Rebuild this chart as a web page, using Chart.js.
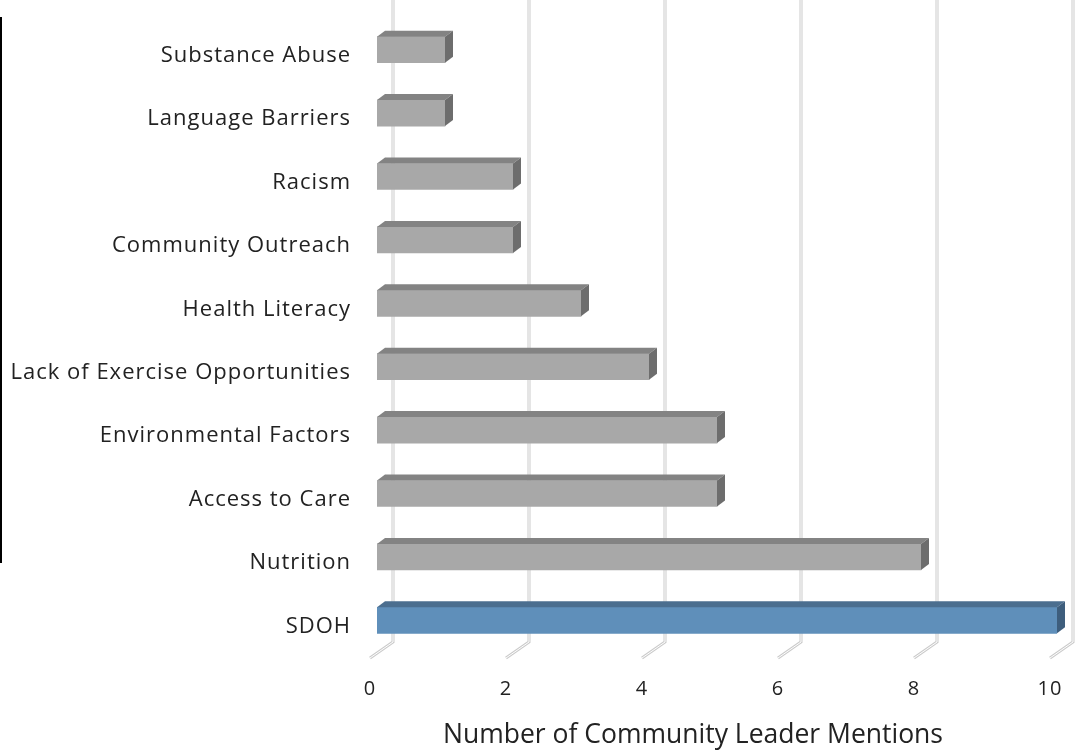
<!DOCTYPE html>
<html>
<head>
<meta charset="utf-8">
<script src="https://cdn.jsdelivr.net/npm/chart.js@4"></script>
<style>
  html, body { margin: 0; padding: 0; background: #ffffff; }
  #wrap { width: 1078px; height: 751px; position: relative; }
</style>
</head>
<body>
<div id="wrap"><canvas id="chart" width="1078" height="751"></canvas></div>
<script>
// Issues raised by community leaders, top to bottom
const categories = [
  'Substance Abuse',
  'Language Barriers',
  'Racism',
  'Community Outreach',
  'Health Literacy',
  'Lack of Exercise Opportunities',
  'Environmental Factors',
  'Access to Care',
  'Nutrition',
  'SDOH'
];
const mentions = [1, 1, 2, 2, 3, 4, 5, 5, 8, 10];
const xTicks = [0, 2, 4, 6, 8, 10];
const highlighted = 'SDOH';
const axisTitle = 'Number of Community Leader Mentions';

const FONT = '"Open Sans", Lato, sans-serif';
const TEXT = '#222222';

// face colours for the extruded bars: [front, top, side]
const greyFaces = ['#a8a8a8', '#838383', '#6d6d6d'];
const blueFaces = ['#5f8fba', '#4b6e8f', '#3e5e7d'];
const facesFor = (cat) => (cat === highlighted ? blueFaces : greyFaces);

const DEPTH_X = 8, DEPTH_Y = 6;     // bar extrusion
const WALL_X = 16;                  // back wall offset of the grid lines
const FLOOR_DX = 7, FLOOR_DY = 16;  // slanted floor segment of each grid line

// Slightly open tracking for the axis text
const trackingPlugin = {
  id: 'tracking',
  beforeDraw(chart) { chart.ctx.letterSpacing = '1px'; },
  beforeDatasetsDraw(chart) { chart.ctx.letterSpacing = '0px'; }
};

// Grid lines drawn as thin 3D rails: back wall + floor diagonal
const gridPlugin = {
  id: 'grid3d',
  beforeDatasetsDraw(chart) {
    const { ctx, chartArea, scales: { x } } = chart;
    const wallBottom = chartArea.bottom - 10;
    ctx.save();
    ctx.lineJoin = 'miter';
    xTicks.forEach(v => {
      const px = x.getPixelForValue(v);
      const path = () => {
        ctx.beginPath();
        ctx.moveTo(px + WALL_X, 0);
        ctx.lineTo(px + WALL_X, wallBottom);
        ctx.lineTo(px - FLOOR_DX, wallBottom + FLOOR_DY);
      };
      path(); ctx.strokeStyle = '#cbcbcb'; ctx.lineWidth = 3; ctx.stroke();
      path(); ctx.strokeStyle = '#ffffff'; ctx.lineWidth = 1; ctx.stroke();
    });
    ctx.restore();
  }
};

// Top and side faces on every bar
const extrudePlugin = {
  id: 'extrude',
  afterDatasetsDraw(chart) {
    const { ctx } = chart;
    const meta = chart.getDatasetMeta(0);
    ctx.save();
    meta.data.forEach((bar, i) => {
      const faces = facesFor(categories[i]);
      const left = Math.min(bar.base, bar.x), right = Math.max(bar.base, bar.x);
      const top = bar.y - bar.height / 2, bottom = bar.y + bar.height / 2;
      ctx.beginPath();
      ctx.moveTo(left, top);
      ctx.lineTo(left + DEPTH_X, top - DEPTH_Y);
      ctx.lineTo(right + DEPTH_X, top - DEPTH_Y);
      ctx.lineTo(right, top);
      ctx.closePath();
      ctx.fillStyle = faces[1]; ctx.fill();
      ctx.beginPath();
      ctx.moveTo(right, top);
      ctx.lineTo(right + DEPTH_X, top - DEPTH_Y);
      ctx.lineTo(right + DEPTH_X, bottom - DEPTH_Y);
      ctx.lineTo(right, bottom);
      ctx.closePath();
      ctx.fillStyle = faces[2]; ctx.fill();
    });
    ctx.restore();
  }
};

// Axis title and the rule along the left edge
const framePlugin = {
  id: 'frame',
  afterDraw(chart) {
    const { ctx } = chart;
    ctx.save();
    ctx.letterSpacing = '0px';
    ctx.fillStyle = '#000000';
    ctx.fillRect(0, 17, 2, 546);
    ctx.fillStyle = TEXT;
    ctx.font = '26.5px ' + FONT;
    ctx.textAlign = 'center';
    ctx.textBaseline = 'middle';
    ctx.fillText(axisTitle, 693, 735);
    ctx.restore();
  }
};

new Chart(document.getElementById('chart'), {
  type: 'bar',
  data: {
    labels: categories,
    datasets: [{
      data: mentions,
      backgroundColor: categories.map(c => facesFor(c)[0]),
      borderWidth: 0,
      barThickness: 26
    }]
  },
  options: {
    indexAxis: 'y',
    responsive: false,
    animation: false,
    devicePixelRatio: 1,
    layout: { padding: { left: 0, right: 21, top: 18, bottom: 0 } },
    plugins: { legend: { display: false }, tooltip: { enabled: false } },
    scales: {
      x: {
        min: 0,
        max: 10,
        afterBuildTicks: s => { s.ticks = xTicks.map(v => ({ value: v })); },
        grid: { display: false, drawTicks: false },
        border: { display: false },
        ticks: { labelOffset: -7, padding: 25, color: TEXT, font: { family: FONT, size: 20 } },
        afterFit: s => { s.height = 99; s.paddingLeft = 0; s.paddingRight = 0; }
      },
      y: {
        grid: { display: false, drawTicks: false },
        border: { display: false },
        ticks: { labelOffset: 6, padding: 26, color: TEXT, font: { family: FONT, size: 22 } },
        afterFit: s => { s.width = 377; s.paddingTop = 0; s.paddingBottom = 0; }
      }
    }
  },
  plugins: [trackingPlugin, gridPlugin, extrudePlugin, framePlugin]
});
</script>
</body>
</html>
